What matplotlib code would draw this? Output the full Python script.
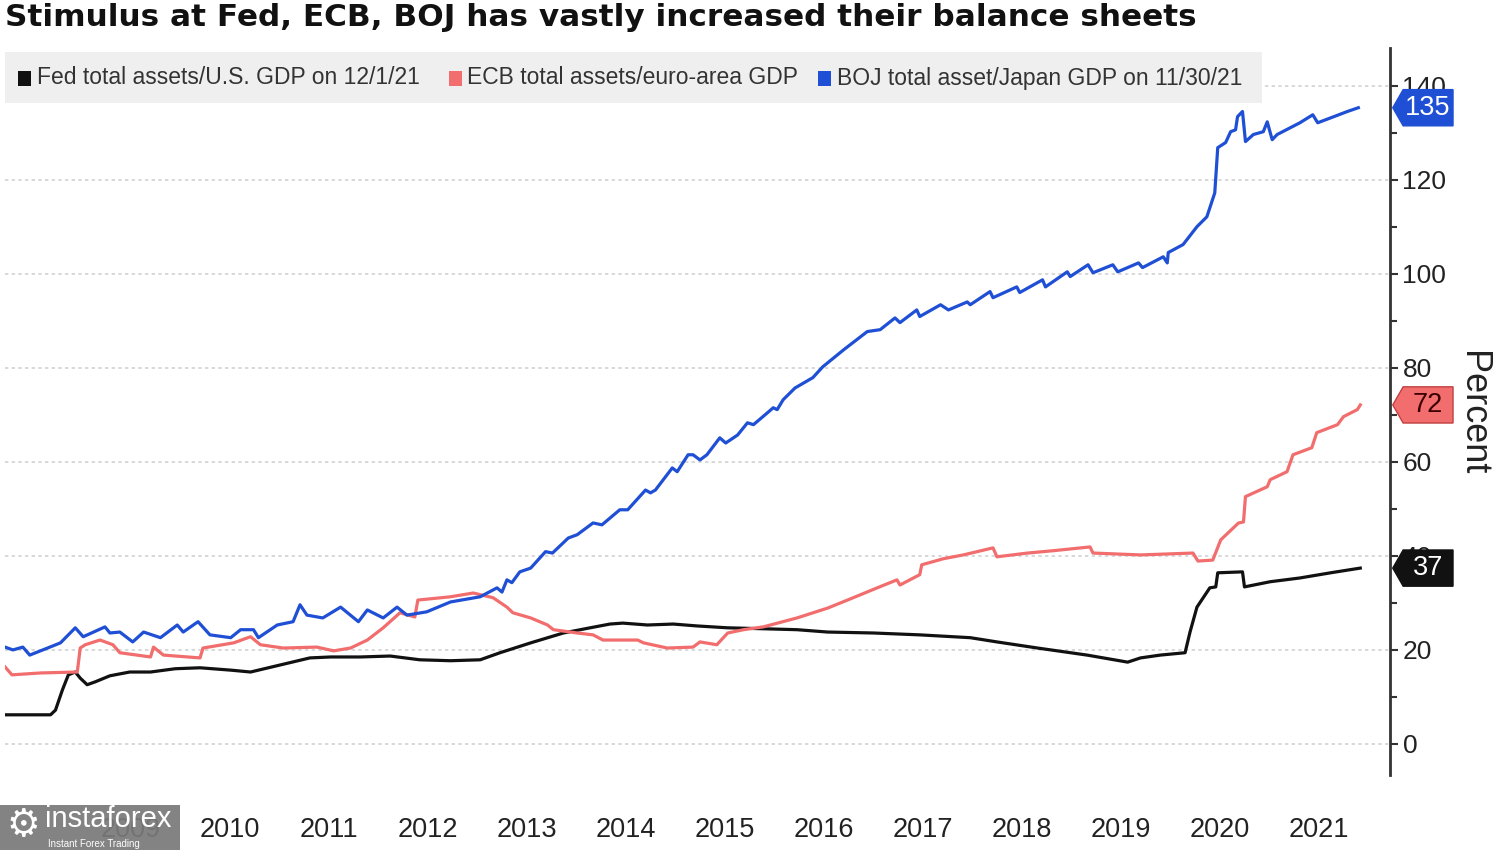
import matplotlib
matplotlib.use('Agg')
import matplotlib.pyplot as plt
import matplotlib.transforms as mtransforms
from matplotlib.patches import Polygon, Rectangle
from matplotlib.ticker import MultipleLocator

TITLE = 'Stimulus at Fed, ECB, BOJ has vastly increased their balance sheets'
Y_LABEL = 'Percent'

# values (decimal year, percent of GDP)
fed_t = [2008.23, 2008.69, 2008.74, 2008.81, 2008.87, 2008.94, 2008.99, 2009.06,
         2009.14, 2009.29, 2009.49, 2009.70, 2009.95, 2010.20, 2010.51, 2010.71,
         2011.01, 2011.31, 2011.52, 2011.82, 2012.12, 2012.42, 2012.73, 2013.03,
         2013.23, 2013.54, 2013.87, 2014.14, 2014.34, 2014.47, 2014.72, 2014.98,
         2015.22, 2015.53, 2015.89, 2016.23, 2016.54, 2017.00, 2017.47, 2017.98,
         2018.25, 2018.66, 2019.16, 2019.57, 2019.70, 2019.90, 2020.15, 2020.20,
         2020.27, 2020.40, 2020.46, 2020.48, 2020.73, 2020.75, 2021.01, 2021.31,
         2021.62, 2021.92]
fed_v = [6.2, 6.2, 7.2, 11.5, 14.7, 15.3, 14.0, 12.6,
         13.2, 14.5, 15.3, 15.3, 16.0, 16.2, 15.7, 15.3,
         16.8, 18.3, 18.5, 18.5, 18.7, 17.9, 17.7, 17.9,
         19.4, 21.5, 23.6, 24.7, 25.5, 25.7, 25.3, 25.5,
         25.1, 24.7, 24.5, 24.3, 23.8, 23.6, 23.2, 22.6,
         21.7, 20.4, 18.9, 17.4, 18.3, 18.9, 19.4, 23.8,
         29.1, 33.2, 33.4, 36.4, 36.6, 33.4, 34.5, 35.3,
         36.4, 37.4]

ecb_t = [2008.23, 2008.30, 2008.59, 2008.96, 2008.99, 2009.04, 2009.19, 2009.32,
         2009.39, 2009.70, 2009.73, 2009.83, 2010.20, 2010.23, 2010.54, 2010.71,
         2010.81, 2011.04, 2011.38, 2011.55, 2011.72, 2011.89, 2012.05, 2012.22,
         2012.37, 2012.40, 2012.73, 2012.96, 2013.16, 2013.30, 2013.36, 2013.54,
         2013.71, 2013.77, 2014.01, 2014.17, 2014.27, 2014.62, 2014.68, 2014.92,
         2015.18, 2015.25, 2015.42, 2015.53, 2015.69, 2015.89, 2016.23, 2016.54,
         2016.74, 2017.04, 2017.24, 2017.27, 2017.47, 2017.49, 2017.71, 2017.91,
         2018.21, 2018.25, 2018.56, 2018.82, 2019.19, 2019.22, 2019.70, 2020.23,
         2020.28, 2020.43, 2020.51, 2020.69, 2020.74, 2020.76, 2020.98, 2021.01,
         2021.18, 2021.24, 2021.43, 2021.48, 2021.69, 2021.75, 2021.89, 2021.92]
ecb_v = [16.4, 14.7, 15.1, 15.3, 20.4, 21.1, 22.1, 21.1,
         19.4, 18.5, 20.6, 18.9, 18.3, 20.4, 21.5, 22.8,
         21.1, 20.4, 20.6, 19.8, 20.4, 22.1, 24.7, 27.9,
         27.0, 30.6, 31.3, 32.1, 31.1, 29.1, 27.9, 26.8,
         25.3, 24.3, 23.6, 23.2, 22.1, 22.1, 21.5, 20.4,
         20.6, 21.7, 21.1, 23.6, 24.3, 24.9, 26.8, 28.9,
         30.6, 33.2, 34.9, 33.8, 36.0, 38.1, 39.4, 40.2,
         41.7, 39.8, 40.6, 41.1, 41.9, 40.6, 40.2, 40.6,
         38.9, 39.1, 43.4, 47.0, 47.2, 52.6, 54.7, 56.2,
         57.9, 61.5, 63.0, 66.2, 67.9, 69.6, 71.1, 72.1]

boj_t = [2008.23, 2008.31, 2008.41, 2008.48, 2008.66, 2008.79, 2008.94, 2009.02,
         2009.24, 2009.29, 2009.39, 2009.52, 2009.63, 2009.80, 2009.97, 2010.03,
         2010.18, 2010.30, 2010.51, 2010.61, 2010.74, 2010.79, 2010.98, 2011.14,
         2011.21, 2011.28, 2011.44, 2011.62, 2011.80, 2011.89, 2012.05, 2012.19,
         2012.29, 2012.49, 2012.73, 2013.03, 2013.20, 2013.25, 2013.30, 2013.35,
         2013.43, 2013.54, 2013.69, 2013.76, 2013.92, 2014.01, 2014.17, 2014.26,
         2014.44, 2014.52, 2014.70, 2014.75, 2014.80, 2014.97, 2015.02, 2015.13,
         2015.18, 2015.25, 2015.32, 2015.45, 2015.51, 2015.63, 2015.73, 2015.79,
         2015.93, 2015.99, 2016.03, 2016.09, 2016.21, 2016.39, 2016.49, 2016.70,
         2016.94, 2017.07, 2017.22, 2017.27, 2017.44, 2017.47, 2017.68, 2017.76,
         2017.95, 2017.98, 2018.18, 2018.21, 2018.45, 2018.48, 2018.71, 2018.74,
         2018.96, 2018.99, 2019.17, 2019.22, 2019.42, 2019.47, 2019.68, 2019.72,
         2019.93, 2019.97, 2019.98, 2020.13, 2020.27, 2020.37, 2020.45, 2020.48,
         2020.56, 2020.61, 2020.66, 2020.68, 2020.73, 2020.76, 2020.84, 2020.94,
         2020.98, 2021.03, 2021.08, 2021.31, 2021.44, 2021.49, 2021.79, 2021.90]
boj_v = [20.6, 20.0, 20.6, 18.9, 20.4, 21.5, 24.7, 22.8,
         24.9, 23.6, 23.8, 21.7, 23.8, 22.6, 25.3, 23.8,
         26.0, 23.2, 22.6, 24.3, 24.3, 22.6, 25.3, 26.0,
         29.6, 27.4, 26.8, 29.1, 26.0, 28.5, 26.8, 29.1,
         27.4, 28.1, 30.2, 31.3, 33.2, 32.3, 34.9, 34.3,
         36.6, 37.4, 40.9, 40.6, 43.8, 44.5, 47.0, 46.6,
         49.8, 49.8, 54.0, 53.4, 54.0, 58.7, 57.9, 61.5,
         61.5, 60.4, 61.5, 65.1, 64.0, 65.7, 68.3, 67.9,
         70.4, 71.5, 71.1, 73.2, 75.7, 77.9, 80.2, 83.8,
         87.7, 88.1, 90.6, 89.6, 92.3, 90.9, 93.4, 92.3,
         94.0, 93.4, 96.2, 94.9, 97.2, 96.0, 98.7, 97.2,
         100.4, 99.4, 101.9, 100.2, 101.9, 100.4, 102.3, 101.3,
         103.6, 102.3, 104.5, 106.2, 110.0, 112.1, 117.2, 126.8,
         127.9, 130.2, 130.6, 133.4, 134.5, 128.1, 129.6, 130.2,
         132.3, 128.5, 129.6, 132.1, 133.8, 132.1, 134.5, 135.3]

labels = ['Fed total assets/U.S. GDP on 12/1/21',
          'ECB total assets/euro-area GDP',
          'BOJ total asset/Japan GDP on 11/30/21']
colors = ['#111111', '#f26d6d', '#1f4fd4']
tag_text = ['white', '#3a0000', 'white']
years = list(range(2009, 2022))

plt.rcParams['font.family'] = ['Liberation Sans', 'DejaVu Sans']

fig = plt.figure(figsize=(15, 8.5), dpi=100)
ax = fig.add_axes([5 / 1500, 75 / 850, 1385 / 1500, 727 / 850])

for t, v, c in zip([fed_t, ecb_t, boj_t], [fed_v, ecb_v, boj_v], colors):
    ax.plot(t, v, color=c, lw=2.3, solid_joinstyle='round', zorder=3)

ax.set_xlim(2008.23, 2022.22)
ax.set_ylim(-6.6, 148)
for side in ('top', 'left', 'bottom'):
    ax.spines[side].set_visible(False)
ax.spines['right'].set_color('#333333')
ax.spines['right'].set_linewidth(2)

ax.yaxis.tick_right()
ax.yaxis.set_major_locator(MultipleLocator(20))
ax.yaxis.set_minor_locator(MultipleLocator(10))
ax.tick_params(axis='y', which='major', length=6, width=1.5, color='#333333',
               labelsize=19, labelcolor='#222222', pad=3)
ax.tick_params(axis='y', which='minor', length=5, width=1.5, color='#333333')
ax.set_xticks([y + 0.5 for y in years])
ax.set_xticklabels([str(y) for y in years])
ax.tick_params(axis='x', length=0, labelsize=19.5, labelcolor='#222222', pad=30)
ax.grid(axis='y', which='major', color='#d2d2d2', lw=1.2, ls=(0, (2, 2)))
ax.set_axisbelow(True)

fig.text(1473 / 1500, 1 - 413 / 850, Y_LABEL, rotation=270, fontsize=26,
         color='#222222', ha='center', va='center')

# value tags on the right axis
tr = mtransforms.blended_transform_factory(ax.transAxes, ax.transData)
half = 3.85
for v, c, tc in zip([fed_v, ecb_v, boj_v], colors, tag_text):
    last = v[-1]
    ec = '#c04040' if c == '#f26d6d' else c
    poly = Polygon([(1.002, last), (1.0095, last + half), (1.0455, last + half),
                    (1.0455, last - half), (1.0095, last - half)],
                   closed=True, transform=tr, facecolor=c, edgecolor=ec, lw=1,
                   clip_on=False, zorder=6)
    ax.add_patch(poly)
    ax.text(1.0275, last, f'{round(last)}', transform=tr, ha='center',
            va='center', fontsize=19.5, color=tc, zorder=7, clip_on=False)

# title
fig.text(5 / 1500, 1 - 18 / 850, TITLE, fontsize=22.4, fontweight='bold',
         family='DejaVu Sans', color='#111111', ha='left', va='center')

# legend strip
fig.patches.append(Rectangle((5 / 1500, 1 - 103 / 850), 1257 / 1500, 51 / 850,
                             transform=fig.transFigure, facecolor='#efefef',
                             edgecolor='none', zorder=0))
sq_x = [18, 449, 818]
tx_x = [37, 467, 837]
for sx, tx, c, lab in zip(sq_x, tx_x, colors, labels):
    fig.patches.append(Rectangle((sx / 1500, 1 - 86 / 850), 13 / 1500, 15 / 850,
                                 transform=fig.transFigure, facecolor=c,
                                 edgecolor='none', zorder=1))
    fig.text(tx / 1500, 1 - 78 / 850, lab, fontsize=16.5, color='#333333',
             ha='left', va='center')

# watermark in the lower-left corner
fig.patches.append(Rectangle((0, 0), 180 / 1500, 45 / 850, transform=fig.transFigure,
                             facecolor='#7a7a7a', edgecolor='none', alpha=0.93,
                             zorder=8))
fig.text(23 / 1500, 1 - 826 / 850, '\u2699', fontsize=27, color='white',
         family='DejaVu Sans', ha='center', va='center', zorder=9)
fig.text(45 / 1500, 1 - 819 / 850, 'instaforex', fontsize=21, color='white',
         ha='left', va='center', zorder=9)
fig.text(48 / 1500, 1 - 844 / 850, 'Instant Forex Trading', fontsize=7,
         color='white', ha='left', va='center', zorder=9)

fig.savefig('out.png', dpi=100)
